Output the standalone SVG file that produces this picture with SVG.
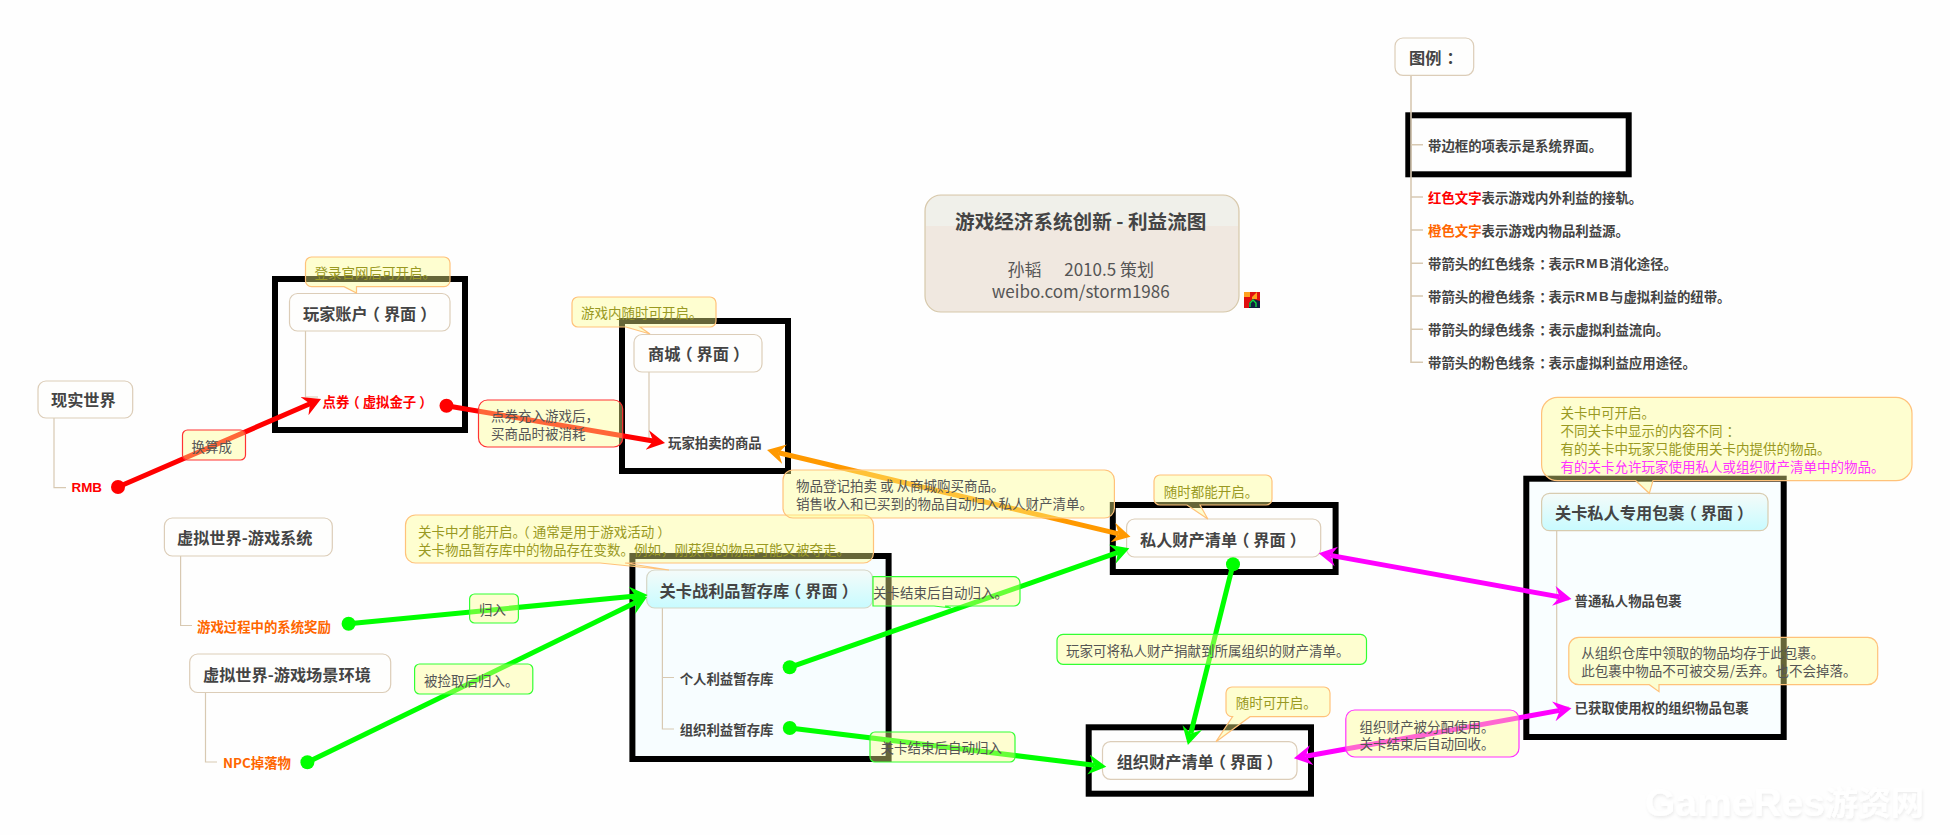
<svg xmlns="http://www.w3.org/2000/svg" width="1950" height="835" viewBox="0 0 1950 835" xml:lang="zh-CN">
<style>
text{font-family:"Noto Sans CJK SC","Noto Sans",sans-serif;dominant-baseline:central;white-space:pre}
.box{fill:#fefefd;stroke:#dccdb8;stroke-width:1.2}
.frame{fill:none;stroke:#000;stroke-width:6}
.tree{fill:none;stroke:#d8c9b2;stroke-width:1.2}
.h{font-size:16.2px;font-weight:700;fill:#444}
.s{font-size:13.4px;font-weight:700;fill:#444}
.red{fill:#f00}.org{fill:#f60}
.l{font-family:"Liberation Sans",sans-serif;letter-spacing:1.4px}
.n{font-size:13.5px;fill:#555}
.y{font-size:13.5px;fill:#999922}
.note{fill:#ffff8c;fill-opacity:.4;stroke-width:1.2}
.no{stroke:#ffc27a}.nr{stroke:#f33}.ng{stroke:#3f3}.nm{stroke:#f3f}
.c{fill:none;stroke-width:5}
</style>
<defs>
<linearGradient id="cy" x1="0" y1="0" x2="0" y2="1"><stop offset="0" stop-color="#f5fbf9"/><stop offset="1" stop-color="#c8fbff"/></linearGradient>
<filter id="wm" x="-10%" y="-30%" width="120%" height="170%"><feDropShadow dx="1" dy="2" stdDeviation="1.5" flood-color="#000" flood-opacity=".07"/></filter>
<marker id="ar" markerUnits="userSpaceOnUse" markerWidth="20" markerHeight="24" refX="6" refY="12" orient="auto-start-reverse"><path d="M0,2 L18,12 L0,22 L6,12Z" fill="#f00"/></marker>
<marker id="ag" markerUnits="userSpaceOnUse" markerWidth="20" markerHeight="24" refX="6" refY="12" orient="auto-start-reverse"><path d="M0,2 L18,12 L0,22 L6,12Z" fill="#0f0"/></marker>
<marker id="ao" markerUnits="userSpaceOnUse" markerWidth="20" markerHeight="24" refX="6" refY="12" orient="auto-start-reverse"><path d="M0,2 L18,12 L0,22 L6,12Z" fill="#f90"/></marker>
<marker id="am" markerUnits="userSpaceOnUse" markerWidth="20" markerHeight="24" refX="6" refY="12" orient="auto-start-reverse"><path d="M0,2 L18,12 L0,22 L6,12Z" fill="#f0f"/></marker>
</defs>
<rect width="1950" height="835" fill="#fefefe"/>

<g id="watermark" filter="url(#wm)" fill="#fff" font-weight="700">
<text x="1645" y="802" font-size="39" style="font-family:'Liberation Sans',sans-serif">GameRes</text>
<text x="1825" y="801" font-size="33">游资网</text>
</g>

<g id="title">
<rect x="925" y="195" width="314" height="117" rx="16" fill="#f0e8e0" stroke="#d6c8aa" stroke-width="1.2"/>
<path d="M926,226 V211 A15,15 0 0 1 941,196 H1223 A15,15 0 0 1 1238,211 V226Z" fill="#f0f0ea"/>
<text x="1080.7" y="220" font-size="19.600" font-weight="700" fill="#444" text-anchor="middle">游戏经济系统创新 - 利益流图</text>
<text x="1080.7" y="268" font-size="17" fill="#555" text-anchor="middle">孙韬      2010.5 策划</text>
<text x="1080.7" y="290" font-size="17" fill="#555" text-anchor="middle">weibo.com/storm1986</text>
</g>
<g id="icon">
<rect x="1244" y="292" width="16" height="16" fill="#e01010"/>
<path d="M1244,292h6v5h-6zM1252,297l5,-5v7h-5z" fill="#ffa020"/>
<path d="M1249,308v-5l4,-4l7,2v7z" fill="#102040"/>
<path d="M1250,307v-4l3,-3l3,3v4" fill="none" stroke="#10e040" stroke-width="1.3"/>
</g>

<g id="real-world">
<path class="tree" d="M54,418V487.7H66"/>
<rect class="box" x="38" y="381" width="94.700" height="37" rx="8"/>
<text class="h" x="51" y="399">现实世界</text>
<text class="s red" x="71.500" y="487.700" style="font-family:'Liberation Sans','Noto Sans CJK SC',sans-serif">RMB</text>
</g>
<g id="player-account">
<rect class="frame" x="275" y="279" width="190" height="151"/>
<path class="tree" d="M305.500,331V397H318"/>
<rect class="box" x="289.500" y="293.500" width="160.500" height="37.500" rx="8"/>
<text class="h" x="303" y="312.500">玩家账户<tspan dx="-4">（</tspan><tspan dx="4">界面</tspan><tspan dx="4">）</tspan></text>
<text class="s red" x="322.500" y="401">点券<tspan dx="-3">（</tspan><tspan dx="3">虚拟金子</tspan><tspan dx="3">）</tspan></text>
</g>
<g id="mall">
<rect class="frame" x="622" y="321" width="166" height="150"/>
<path class="tree" d="M649,372V441.500H662"/>
<rect class="box" x="634" y="334.500" width="128" height="37.500" rx="8"/>
<text class="h" x="648" y="353">商城<tspan dx="-4">（</tspan><tspan dx="4">界面</tspan><tspan dx="4">）</tspan></text>
<text class="s" x="668" y="441.500">玩家拍卖的商品</text>
</g>
<g id="virtual-system">
<path class="tree" d="M180.600,556V625.500H192"/>
<rect class="box" x="164.400" y="518" width="167.900" height="38" rx="8"/>
<text class="h" x="177" y="536.700">虚拟世界-游戏系统</text>
<text class="s org" x="197" y="625.700">游戏过程中的系统奖励</text>
</g>
<g id="virtual-scene">
<path class="tree" d="M205.500,692.500V762H217"/>
<rect class="box" x="189.700" y="654" width="201" height="38.500" rx="8"/>
<text class="h" x="203" y="673.700">虚拟世界-游戏场景环境</text>
<text class="s org" x="223" y="762">NPC掉落物</text>
</g>
<g id="level-loot">
<rect x="632.400" y="556" width="256.200" height="203" fill="#f7fdff" stroke="#000" stroke-width="6"/>
<path class="tree" d="M662.400,608V729H674M662.400,677.500H674"/>
<rect x="646.700" y="570" width="225.800" height="38" rx="8" fill="url(#cy)" stroke="#d5d5c5" stroke-width="1.2"/>
<text class="h" x="659.600" y="589.500">关卡战利品暂存库<tspan dx="-4">（</tspan><tspan dx="4">界面</tspan><tspan dx="4">）</tspan></text>
<text class="s" x="679.700" y="677.700">个人利益暂存库</text>
<text class="s" x="679.700" y="729">组织利益暂存库</text>
</g>
<g id="private-list">
<rect class="frame" x="1112.800" y="505" width="222.800" height="67"/>
<rect class="box" x="1126.600" y="519" width="194.100" height="38" rx="8"/>
<text class="h" x="1140" y="539">私人财产清单<tspan dx="-4">（</tspan><tspan dx="4">界面</tspan><tspan dx="4">）</tspan></text>
</g>
<g id="org-list">
<rect class="frame" x="1088.700" y="727.300" width="222.300" height="66.400"/>
<rect class="box" x="1102.500" y="741.700" width="194.500" height="37.600" rx="8"/>
<text class="h" x="1116.700" y="760.700">组织财产清单<tspan dx="-4">（</tspan><tspan dx="4">界面</tspan><tspan dx="4">）</tspan></text>
</g>
<g id="level-bag">
<rect x="1526.300" y="478.700" width="257.400" height="258.300" fill="#f9feff" stroke="#000" stroke-width="6"/>
<path class="tree" d="M1556.700,530.700V707H1569M1556.700,600H1569"/>
<rect x="1541.600" y="493.300" width="226.400" height="37.400" rx="8" fill="url(#cy)" stroke="#d8ccb0" stroke-width="1.2"/>
<text class="h" x="1555" y="512.300">关卡私人专用包裹<tspan dx="-4">（</tspan><tspan dx="4">界面</tspan><tspan dx="4">）</tspan></text>
<text class="s" x="1574.600" y="600.300">普通私人物品包裹</text>
<text class="s" x="1574.600" y="707.300">已获取使用权的组织物品包裹</text>
</g>
<g id="legend">
<rect class="frame" x="1408.300" y="115.300" width="220.400" height="59"/>
<path d="M1411,75V362.300H1423M1411,144.700H1423M1411,197H1423M1411,230H1423M1411,263.300H1423M1411,296H1423M1411,329.300H1423" fill="none" stroke="#d8c9b2" stroke-width="1.6"/>
<rect class="box" x="1395" y="38" width="78.700" height="37.300" rx="8"/>
<text class="h" x="1409" y="56.700">图例<tspan dx="5">：</tspan></text>
<text class="s" x="1428" y="144.700">带边框的项表示是系统界面。</text>
<text class="s" x="1428" y="197"><tspan class="red">红色文字</tspan>表示游戏内外利益的接轨。</text>
<text class="s" x="1428" y="230"><tspan class="org">橙色文字</tspan>表示游戏内物品利益源。</text>
<text class="s" x="1428" y="263.300">带箭头的红色线条<tspan dx="4">：</tspan><tspan dx="-4">表示</tspan><tspan class="l">RMB</tspan>消化途径。</text>
<text class="s" x="1428" y="296">带箭头的橙色线条<tspan dx="4">：</tspan><tspan dx="-4">表示</tspan><tspan class="l">RMB</tspan>与虚拟利益的纽带。</text>
<text class="s" x="1428" y="329.300">带箭头的绿色线条<tspan dx="4">：</tspan><tspan dx="-4">表示虚拟利益流向。</tspan></text>
<text class="s" x="1428" y="362.300">带箭头的粉色线条<tspan dx="4">：</tspan><tspan dx="-4">表示虚拟利益应用途径。</tspan></text>
</g>

<g id="connectors">
<path class="c" stroke="#f00" marker-end="url(#ar)" d="M118,487L310,403.800"/>
<circle cx="118" cy="487" r="7" fill="#f00"/>
<path class="c" stroke="#f00" marker-end="url(#ar)" d="M446.500,405.700L653.200,441"/>
<circle cx="446.500" cy="405.700" r="7" fill="#f00"/>
<path class="c" stroke="#f90" marker-start="url(#ao)" marker-end="url(#ao)" d="M778.700,452.800L1118.800,533.900"/>
<path class="c" stroke="#0f0" marker-end="url(#ag)" d="M348.600,623.700L635.700,596.100"/>
<circle cx="348.600" cy="623.700" r="7" fill="#0f0"/>
<path class="c" stroke="#0f0" marker-end="url(#ag)" d="M307.400,762.300L636.200,602.300"/>
<circle cx="307.400" cy="762.300" r="7" fill="#0f0"/>
<path class="c" stroke="#0f0" marker-end="url(#ag)" d="M789.700,667.300L1118,552.300"/>
<circle cx="789.700" cy="667.300" r="7" fill="#0f0"/>
<path class="c" stroke="#0f0" marker-end="url(#ag)" d="M789.800,728L1094.400,765.200"/>
<circle cx="789.800" cy="728" r="7" fill="#0f0"/>
<path class="c" stroke="#0f0" marker-end="url(#ag)" d="M1233,564.300L1190.800,733.400"/>
<circle cx="1233" cy="564.300" r="7" fill="#0f0"/>
<path class="c" stroke="#f0f" marker-start="url(#am)" marker-end="url(#am)" d="M1330.500,555.400L1559.700,596.900"/>
<path class="c" stroke="#f0f" marker-start="url(#am)" marker-end="url(#am)" d="M1305.700,756.200L1559.700,710.400"/>
</g>

<g id="note-account">
<path class="note no" d="M311.500,257H444A6,6 0 0 1 450,263V280.700A6,6 0 0 1 444,286.700H356.500V293L344,286.700H311.500A6,6 0 0 1 305.500,280.700V263A6,6 0 0 1 311.500,257Z"/>
<text class="y" x="314.500" y="271.500">登录官网后可开启。</text>
</g>
<g id="note-mall">
<path class="note no" d="M578,297H710A6,6 0 0 1 716,303V321A6,6 0 0 1 710,327H640L650,334L626,327H578A6,6 0 0 1 572,321V303A6,6 0 0 1 578,297Z"/>
<text class="y" x="581" y="312">游戏内随时可开启。</text>
</g>
<g id="note-exchange">
<rect class="note nr" x="182.500" y="430" width="63" height="30" rx="5"/>
<text class="n" x="191.500" y="445.700">换算成</text>
</g>
<g id="note-topup">
<rect class="note nr" x="478.500" y="400" width="144.200" height="47" rx="9"/>
<text class="n" x="491" y="415">点券充入游戏后，</text>
<text class="n" x="491" y="433">买商品时被消耗</text>
</g>
<g id="note-level">
<path class="note no" d="M415.500,515H863.500A10,10 0 0 1 873.500,525V553A10,10 0 0 1 863.500,563H625L669,570L600,563H415.500A10,10 0 0 1 405.500,553V525A10,10 0 0 1 415.500,515Z"/>
<text class="y" x="418" y="531">关卡中才能开启。<tspan dx="-3">（</tspan><tspan dx="3">通常是用于游戏活动</tspan><tspan dx="3">）</tspan></text>
<text class="y" x="418" y="549">关卡物品暂存库中的物品存在变数。例如，刚获得的物品可能又被夺走。</text>
</g>
<g id="note-return">
<rect class="note ng" x="469.600" y="594" width="48.800" height="29" rx="5"/>
<text class="n" x="479" y="609">归入</text>
</g>
<g id="note-pickup">
<rect class="note ng" x="414.600" y="664" width="118.200" height="30" rx="5"/>
<text class="n" x="424" y="680">被捡取后归入。</text>
</g>
<g id="note-auction">
<rect class="note no" x="783" y="470" width="331.400" height="48" rx="10"/>
<text class="n" x="796" y="485">物品登记拍卖 或 从商城购买商品。</text>
<text class="n" x="796" y="503">销售收入和已买到的物品自动归入私人财产清单。</text>
</g>
<g id="note-private">
<path class="note no" d="M1160,475H1266A6,6 0 0 1 1272,481V499A6,6 0 0 1 1266,505H1200L1207.800,519L1187,505H1160A6,6 0 0 1 1154,499V481A6,6 0 0 1 1160,475Z"/>
<text class="y" x="1163.700" y="490.500">随时都能开启。</text>
</g>
<g id="note-personal-end">
<path class="note ng" d="M873,576.700H1014A6,6 0 0 1 1020,582.700V600A6,6 0 0 1 1014,606H945L951,608L934,606H873Z"/>
<text class="n" x="873" y="591.700">关卡结束后自动归入。</text>
</g>
<g id="note-org-end">
<rect class="note ng" x="870" y="732" width="145" height="30" rx="5"/>
<text class="n" x="880.500" y="747.300">关卡结束后自动归入</text>
</g>
<g id="note-donate">
<rect class="note ng" x="1057" y="634.300" width="309.500" height="30" rx="6"/>
<text class="n" x="1066" y="650">玩家可将私人财产捐献到所属组织的财产清单。</text>
</g>
<g id="note-org">
<path class="note no" d="M1232,687H1324A6,6 0 0 1 1330,693V710.700A6,6 0 0 1 1324,716.700H1250L1216,741.700L1232.600,716.700H1232A6,6 0 0 1 1226,710.700V693A6,6 0 0 1 1232,687Z"/>
<text class="y" x="1235.700" y="702.300">随时可开启。</text>
</g>
<g id="note-assign">
<rect class="note nm" x="1345.800" y="710" width="173.200" height="47" rx="9"/>
<text class="n" x="1359.500" y="725.700">组织财产被分配使用。</text>
<text class="n" x="1359.500" y="743.300">关卡结束后自动回收。</text>
</g>
<g id="note-bag">
<path class="note no" d="M1557.600,397.300H1896A16,16 0 0 1 1912,413.300V464.700A16,16 0 0 1 1896,480.700H1653L1649.300,493.300L1635.700,480.700H1557.600A16,16 0 0 1 1541.600,464.700V413.300A16,16 0 0 1 1557.600,397.300Z"/>
<text class="y" x="1560.600" y="412.300">关卡中可开启。</text>
<text class="y" x="1560.600" y="430.300">不同关卡中显示的内容不同<tspan dx="4">：</tspan></text>
<text class="y" x="1560.600" y="448.300">有的关卡中玩家只能使用关卡内提供的物品。</text>
<text class="y" x="1560.600" y="466.300" style="fill:#f3f">有的关卡允许玩家使用私人或组织财产清单中的物品。</text>
</g>
<g id="note-orgbag">
<path class="note no" d="M1578.800,637.300H1867.700A10,10 0 0 1 1877.700,647.300V674.700A10,10 0 0 1 1867.700,684.700H1659V691.700L1649.300,684.700H1578.800A10,10 0 0 1 1568.800,674.700V647.300A10,10 0 0 1 1578.800,637.300Z"/>
<text class="n" x="1581.200" y="652.300">从组织仓库中领取的物品均存于此包裹。</text>
<text class="n" x="1581.200" y="670.300">此包裹中物品不可被交易/丢弃。也不会掉落。</text>
</g>
</svg>
